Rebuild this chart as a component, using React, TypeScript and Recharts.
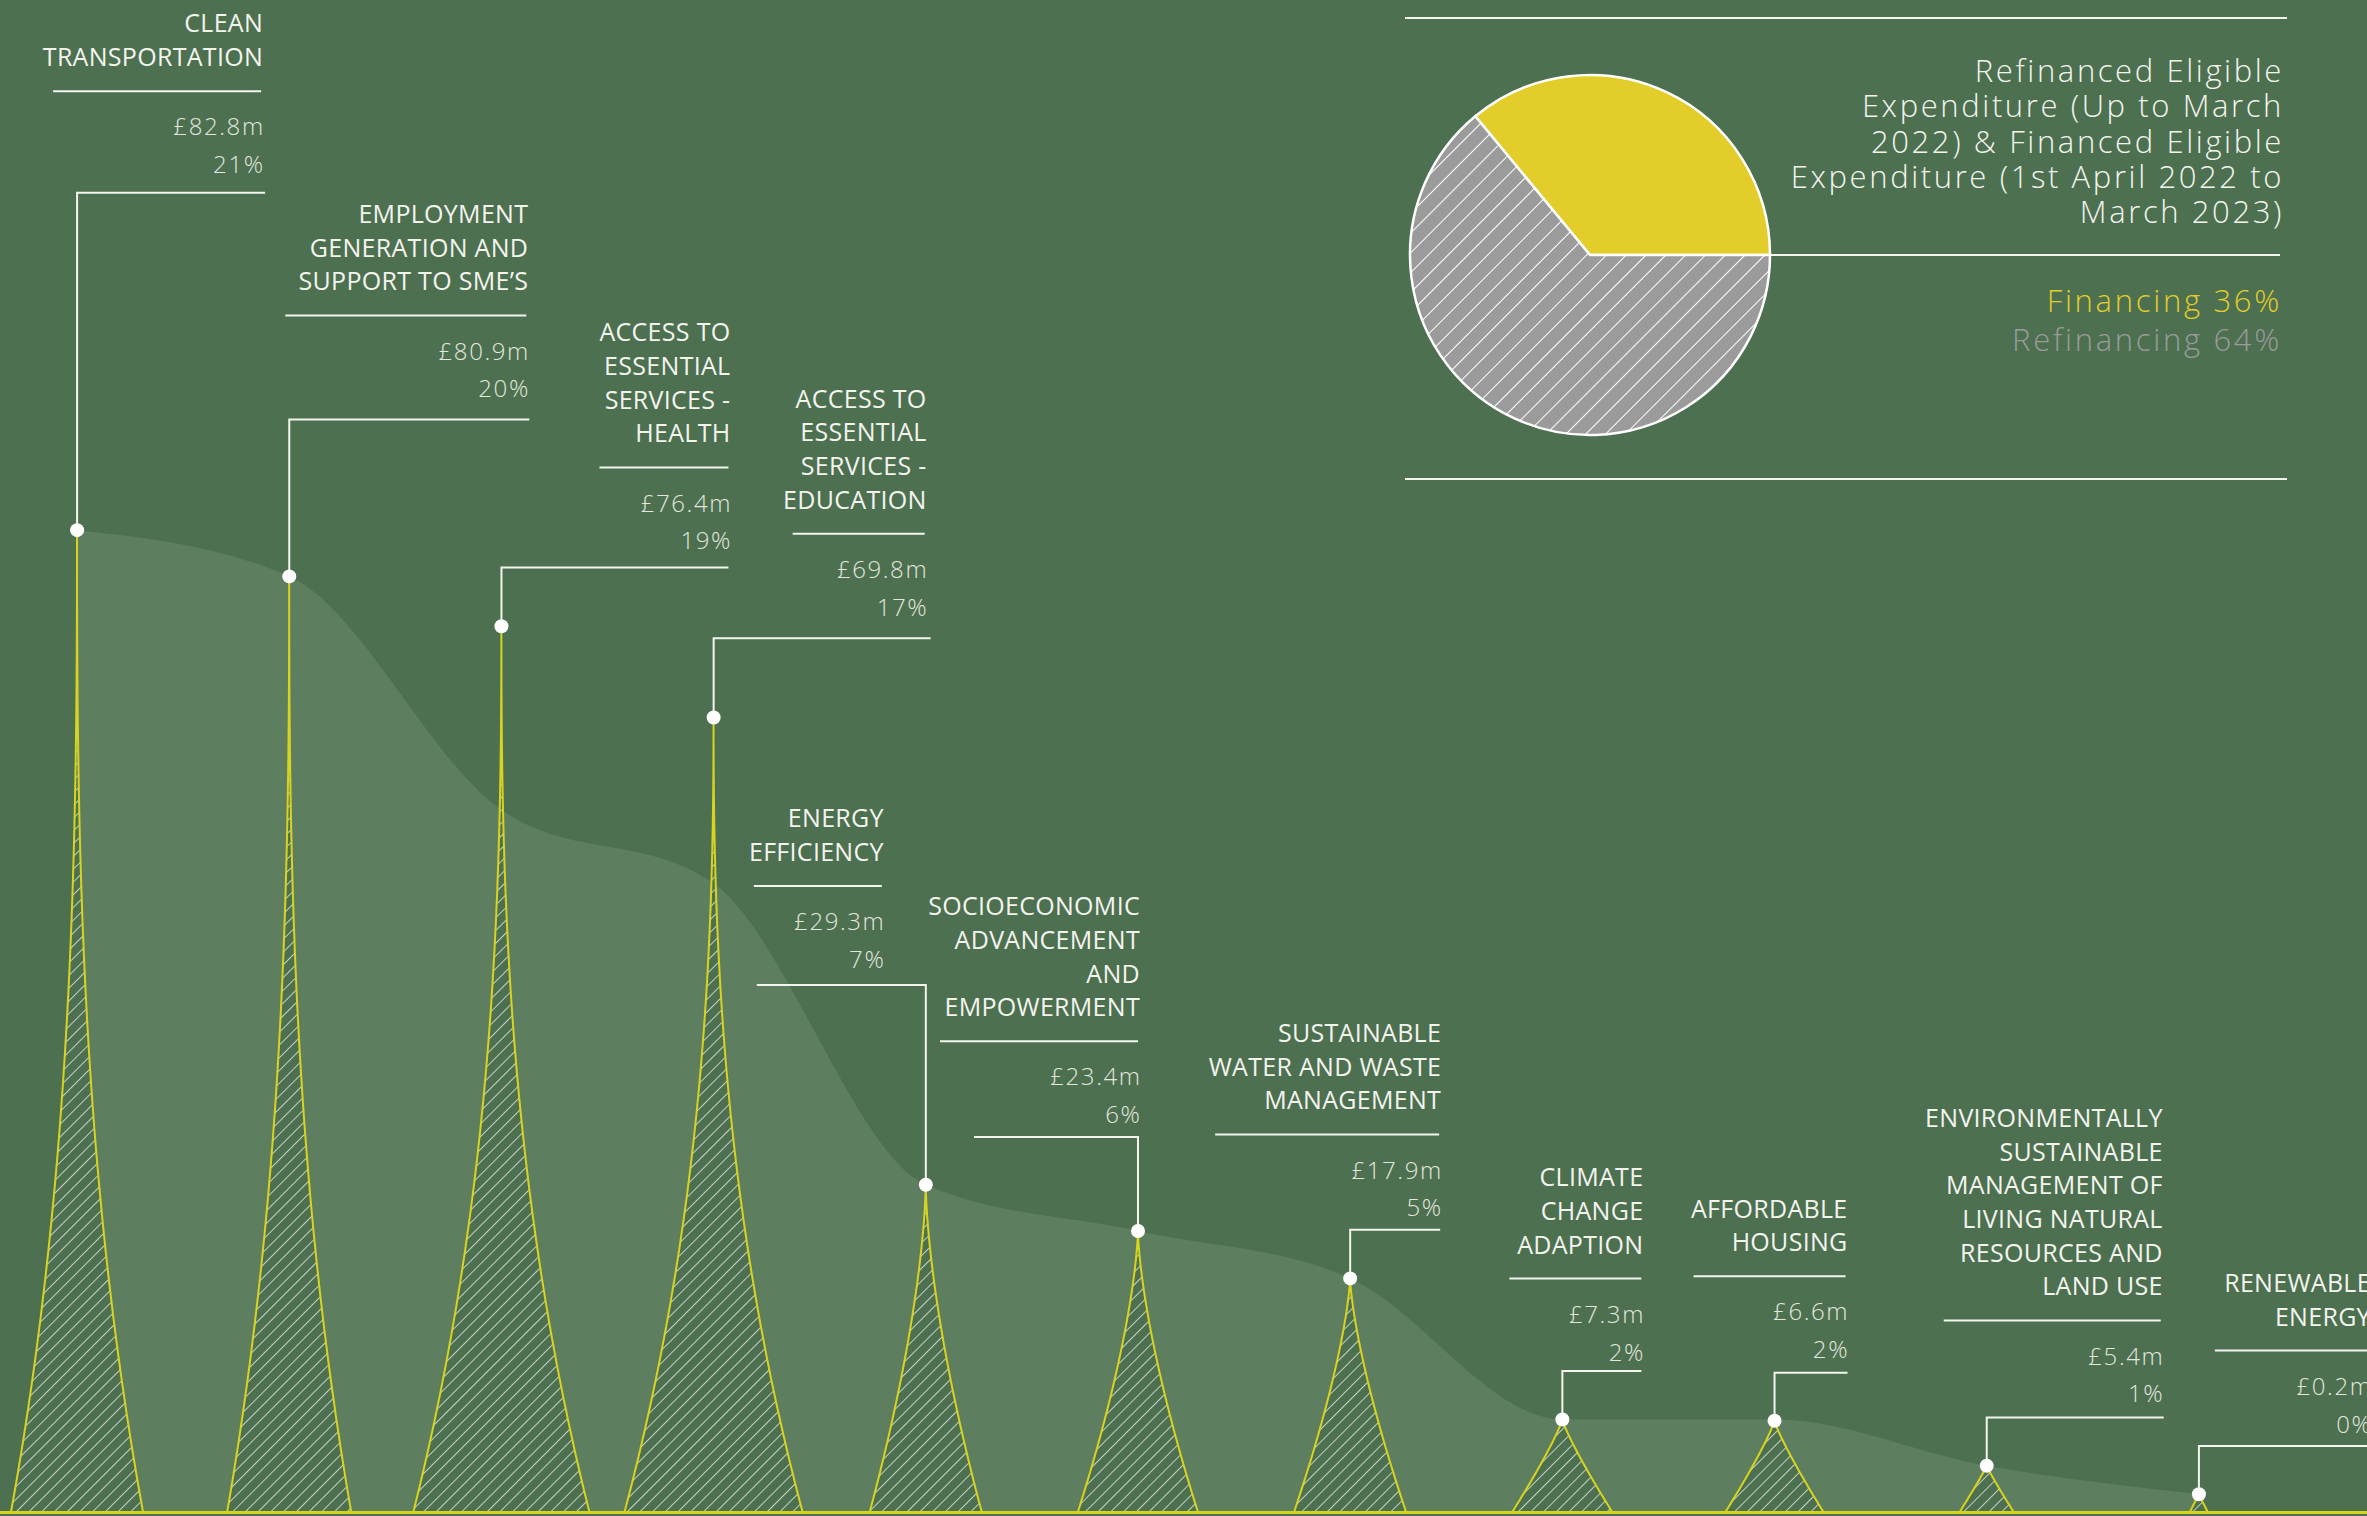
import React from 'react';
import { ComposedChart, Area, Bar, Line, XAxis, YAxis, PieChart, Pie, Cell } from 'recharts';

// category titles, split the way they are printed
const categoryLines = [
  ['CLEAN', 'TRANSPORTATION'],
  ['EMPLOYMENT', 'GENERATION AND', 'SUPPORT TO SME’S'],
  ['ACCESS TO', 'ESSENTIAL', 'SERVICES -', 'HEALTH'],
  ['ACCESS TO', 'ESSENTIAL', 'SERVICES -', 'EDUCATION'],
  ['ENERGY', 'EFFICIENCY'],
  ['SOCIOECONOMIC', 'ADVANCEMENT', 'AND', 'EMPOWERMENT'],
  ['SUSTAINABLE', 'WATER AND WASTE', 'MANAGEMENT'],
  ['CLIMATE', 'CHANGE', 'ADAPTION'],
  ['AFFORDABLE', 'HOUSING'],
  ['ENVIRONMENTALLY', 'SUSTAINABLE', 'MANAGEMENT OF', 'LIVING NATURAL', 'RESOURCES AND', 'LAND USE'],
  ['RENEWABLE', 'ENERGY'],
];
const amounts = [82.8, 80.9, 76.4, 69.8, 29.3, 23.4, 17.9, 7.3, 6.6, 5.4, 0.2];
const shares = [21, 20, 19, 17, 7, 6, 5, 2, 2, 1, 0];
// spike heights as drawn (£m scale)
const peakHeights = [82.8, 78.9, 74.7, 67.0, 27.6, 23.7, 19.7, 7.8, 7.7, 3.9, 1.5];
// the pale trend area behind the spikes
const trendValues = [82.8, 78.9, 59.2, 53.0, 27.6, 23.7, 19.7, 7.8, 7.8, 3.9, 1.5];

const fundingNames = ['Financing', 'Refinancing'];
const fundingShares = [36, 64];
const pieTitle = [
  'Refinanced Eligible',
  'Expenditure (Up to March',
  '2022) & Financed Eligible',
  'Expenditure (1st April 2022 to',
  'March 2023)',
];

const data = categoryLines.map((lines, i) => ({
  name: lines.join(' '),
  peak: peakHeights[i],
  trend: trendValues[i],
}));
const pieData = fundingNames.map((name, i) => ({ name, value: fundingShares[i] }));

const BG = '#4c7050';
const AREA = '#5e7f5f';
const SPIKE_LINE = '#d8d31e';
const PIE_YELLOW = '#e3cd2b';
const GREY = '#9b9b9b';
const WHITE = '#f4f4ef';
const SOFT = '#e3e6df';
const FONT = '"Open Sans", "Noto Sans", sans-serif';

// look of each spike and callout (pixels, relative to the point)
const SPIKE_HALF = [66, 62, 88, 89, 56, 60, 56, 50, 49, 27, 9];
const CALLOUT = [
  { lift: 337.5, gap: 19.5, reach: 188, textDx: 186, sep: 210 },
  { lift: 157, gap: 22, reach: 240, textDx: 239, sep: 243 },
  { lift: 58.7, gap: 18, reach: 227, textDx: 229, sep: 131 },
  { lift: 79.3, gap: 22.4, reach: 217, textDx: 213, sep: 134 },
  { lift: 199.7, gap: 17, reach: -169, textDx: -42, sep: 130 },
  { lift: 94, gap: 13.7, reach: -164, textDx: 2, sep: 200 },
  { lift: 48.7, gap: 13.3, reach: 90, textDx: 91, sep: 226 },
  { lift: 48.4, gap: 10.6, reach: 79, textDx: 81, sep: 134 },
  { lift: 48, gap: 14.4, reach: 73, textDx: 73, sep: 154 },
  { lift: 48.3, gap: 15, reach: 177, textDx: 176, sep: 219 },
  { lift: 48.3, gap: 13.3, reach: 220, textDx: 172, sep: 156 },
];

const Spike = (props: any) => {
  const { x, y, width, height } = props;
  const index = props.index ?? data.findIndex((d) => d.name === props.payload?.name);
  if (!height || height <= 0) return null;
  const cx = x + width / 2;
  const base = y + height;
  const half = SPIKE_HALF[index];
  const p = 1 + (1.7 * height) / 982;
  const left: string[] = [];
  const right: string[] = [];
  for (let s = 0; s <= 30; s++) {
    const t = s / 30;
    const w = half * Math.pow(1 - t, p);
    left.push(`${cx - w},${base - height * t}`);
    right.unshift(`${cx + w},${base - height * t}`);
  }
  return <path d={`M${left.join('L')}L${right.join('L')}Z`} fill="url(#spikeHatch)" stroke={SPIKE_LINE} strokeWidth={2} />;
};

const Callout = (props: any) => {
  const { cx, cy, index } = props;
  const c = CALLOUT[index];
  const lines = categoryLines[index];
  const yh = cy - c.lift;
  const right = cx + c.textDx;
  const pctY = yh - c.gap;
  const valY = pctY - 37.8;
  const sepY = pctY - 82;
  const lastY = pctY - 107;
  return (
    <g key={`callout-${index}`}>
      <polyline points={`${cx},${cy} ${cx},${yh} ${cx + c.reach},${yh}`} fill="none" stroke={WHITE} strokeWidth={2} />
      <line x1={right - c.sep} x2={right - 2} y1={sepY} y2={sepY} stroke={WHITE} strokeWidth={2} />
      {lines.map((t, i) => (
        <text key={i} x={right} y={lastY - (lines.length - 1 - i) * 33.7} textAnchor="end" fill={WHITE}
          fontFamily={FONT} fontSize={25} letterSpacing={0.3}>{t}</text>
      ))}
      <text x={right + 1.6} y={valY} textAnchor="end" fill={SOFT} fontFamily={FONT} fontWeight={300} fontSize={24} letterSpacing={1.6}>
        £{amounts[index].toFixed(1)}m
      </text>
      <text x={right + 1.6} y={pctY} textAnchor="end" fill={SOFT} fontFamily={FONT} fontWeight={300} fontSize={24} letterSpacing={1.6}>
        {shares[index]}%
      </text>
      <circle cx={cx} cy={cy} r={7} fill="#ffffff" />
    </g>
  );
};

export default function App() {
  return (
    <div style={{ position: 'fixed', left: 0, top: 0, width: 2367, height: 1516, background: BG, overflow: 'hidden' }}>
      <ComposedChart width={2367} height={1516} data={data} margin={{ top: 89, right: 62, bottom: 4, left: -29 }}>
        <defs>
          <pattern id="spikeHatch" width={9} height={9} patternUnits="userSpaceOnUse" patternTransform="rotate(45)">
            <rect width={9} height={9} fill={BG} />
            <line x1={0} y1={0} x2={0} y2={9} stroke="#e4e9e0" strokeWidth={1.6} />
          </pattern>
        </defs>
        <XAxis dataKey="name" hide />
        <YAxis hide domain={[0, 120]} />
        <Area type="monotone" dataKey="trend" fill={AREA} fillOpacity={1} stroke="none" isAnimationActive={false} />
        <Bar dataKey="peak" barSize={20} shape={<Spike />} isAnimationActive={false} />
        <Line dataKey="peak" stroke="none" dot={(p: any) => <Callout {...p} />} activeDot={false} isAnimationActive={false} />
      </ComposedChart>

      <div style={{ position: 'absolute', left: 0, top: 1511, width: 2367, height: 3, background: SPIKE_LINE }} />

      <svg width={2367} height={500} style={{ position: 'absolute', left: 0, top: 0 }}>
        <line x1={1405} x2={2287} y1={18} y2={18} stroke={WHITE} strokeWidth={2} />
        <line x1={1405} x2={2287} y1={479} y2={479} stroke={WHITE} strokeWidth={2} />
        <line x1={1769} x2={2280} y1={255} y2={255} stroke={WHITE} strokeWidth={2} />
        {pieTitle.map((t, i) => (
          <text key={i} x={2284} y={82.3 + i * 35.1} textAnchor="end" fill={WHITE} fontFamily={FONT} fontWeight={300} fontSize={31} letterSpacing={2.6}>{t}</text>
        ))}
        {pieData.map((d, i) => (
          <text key={d.name} x={2282} y={312 + i * 39} textAnchor="end" fill={i === 0 ? PIE_YELLOW : GREY} fontFamily={FONT} fontWeight={300} fontSize={31} letterSpacing={2.7}>
            {d.name} {d.value}%
          </text>
        ))}
      </svg>

      <div style={{ position: 'absolute', left: 1390, top: 55 }}>
        <PieChart width={400} height={400} margin={{ top: 0, right: 0, bottom: 0, left: 0 }}>
          <defs>
            <pattern id="pieHatch" width={14} height={14} patternUnits="userSpaceOnUse" patternTransform="rotate(45)">
              <rect width={14} height={14} fill={GREY} />
              <line x1={0} y1={0} x2={0} y2={14} stroke="#ffffff" strokeWidth={2} />
            </pattern>
          </defs>
          <Pie data={pieData} dataKey="value" cx={200} cy={200} outerRadius={180} startAngle={0} endAngle={360}
            stroke="#ffffff" strokeWidth={2.5} isAnimationActive={false}>
            <Cell fill={PIE_YELLOW} />
            <Cell fill="url(#pieHatch)" />
          </Pie>
        </PieChart>
      </div>
    </div>
  );
}
